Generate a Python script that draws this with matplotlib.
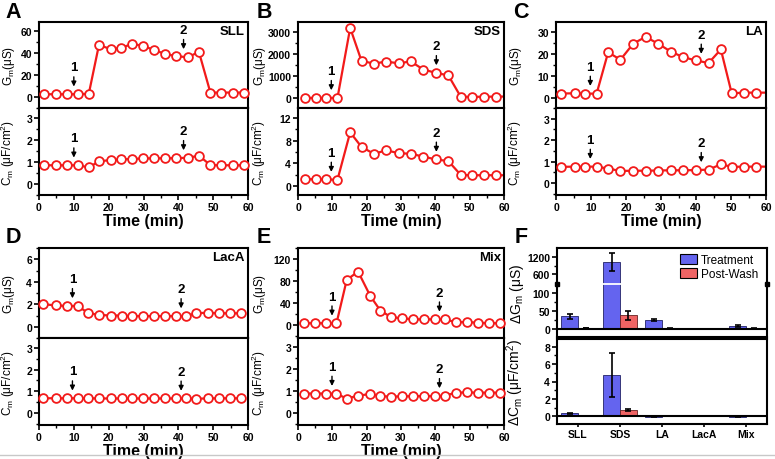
import numpy as np
import matplotlib
matplotlib.use('Agg')
import matplotlib.pyplot as plt
from matplotlib.ticker import MultipleLocator, FixedLocator
from matplotlib.patches import Patch
from matplotlib.lines import Line2D

plt.rcParams['font.family'] = ['Liberation Sans', 'DejaVu Sans']
plt.rcParams['mathtext.default'] = 'regular'

# ---------------- data ----------------
# A  SLL
t_sll = [1.3, 4.9, 8.1, 11.3, 14.3, 17.2, 20.6, 23.6, 26.6, 29.9, 33.0, 36.3, 39.4, 42.8, 45.9, 49.2, 52.3, 55.7, 58.8]
g_sll = [2.5, 2.5, 2.5, 2.5, 3.0, 47, 43.5, 44.5, 48, 46.5, 42.5, 39, 37, 36, 41, 4, 4, 4, 4]
c_sll = [0.86, 0.86, 0.86, 0.86, 0.76, 1.04, 1.1, 1.13, 1.15, 1.17, 1.18, 1.18, 1.19, 1.2, 1.3, 0.87, 0.86, 0.86, 0.86]
# B  SDS
t_sds = [1.9, 5.2, 8.3, 11.5, 15.2, 18.5, 22.1, 25.7, 29.4, 32.8, 36.5, 40.1, 43.8, 47.4, 50.8, 54.2, 57.6, 61.0]
g_sds = [0, 0, 0, 0, 3180, 1680, 1560, 1650, 1570, 1660, 1290, 1140, 1020, 50, 50, 50, 60, 60]
c_sds = [1.2, 1.2, 1.15, 1.1, 9.5, 6.9, 5.7, 6.3, 5.8, 5.7, 5.2, 4.7, 4.4, 1.95, 1.9, 1.9, 1.9, 1.9]
# C  LA
t_la = [1.4, 5.3, 8.4, 11.6, 14.9, 18.4, 22.1, 25.6, 29.1, 32.8, 36.3, 39.9, 43.6, 47.1, 50.2, 53.8, 57.1, 60.5]
g_la = [2.1, 2.2, 2.1, 2.0, 20.9, 17.5, 24.9, 27.9, 24.9, 21.2, 18.7, 17.2, 16.0, 22.2, 2.2, 2.5, 2.5, 2.5]
c_la = [0.76, 0.77, 0.77, 0.77, 0.68, 0.57, 0.58, 0.58, 0.59, 0.6, 0.6, 0.61, 0.63, 0.88, 0.76, 0.77, 0.77, 0.77]
# D  LacA
t_laca = [1.2, 4.8, 7.9, 11.1, 14.1, 17.3, 20.6, 23.7, 26.8, 29.9, 33.0, 36.1, 39.2, 42.1, 45.2, 48.4, 51.6, 54.7, 58.1]
g_laca = [2.0, 1.9, 1.85, 1.85, 1.22, 1.05, 1.0, 1.0, 0.95, 0.95, 0.95, 0.95, 0.95, 0.95, 1.2, 1.25, 1.2, 1.2, 1.2]
c_laca = [0.68, 0.68, 0.68, 0.68, 0.68, 0.67, 0.67, 0.67, 0.67, 0.67, 0.67, 0.67, 0.67, 0.67, 0.66, 0.67, 0.68, 0.68, 0.68]
# E  Mix
t_mix = [1.7, 5.0, 8.2, 11.2, 14.2, 17.5, 21.1, 24.0, 27.1, 30.2, 33.4, 36.7, 39.8, 42.7, 45.9, 49.2, 52.3, 55.5, 58.7]
g_mix = [3, 3, 3, 2.5, 82, 97, 52, 26, 14, 12, 10, 10, 10, 10, 5, 5, 4, 3, 3]
c_mix = [0.88, 0.88, 0.88, 0.87, 0.65, 0.78, 0.86, 0.76, 0.74, 0.75, 0.76, 0.76, 0.77, 0.77, 0.92, 0.93, 0.92, 0.92, 0.92]

arrows_sll = [10, 41.5]
arrows_sds = [9.7, 40.3]
arrows_la = [9.8, 41.5]
arrows_laca = [9.6, 40.8]
arrows_mix = [9.9, 41.2]

# F  summary
cats = ['SLL', 'SDS', 'LA', 'LacA', 'Mix']
dg_treat = [35, 1040, 25, 0.5, 8]
dg_treat_err = [8, 320, 3, 0.4, 2]
dg_wash = [2, 38, 1, 0.5, 1.5]
dg_wash_err = [1, 13, 0.5, 0.3, 0.8]
dc_treat = [0.35, 4.75, -0.05, 0.0, -0.05]
dc_treat_err = [0.06, 2.55, 0.03, 0.02, 0.03]
dc_wash = [0.03, 0.7, 0.0, 0.0, 0.03]
dc_wash_err = [0.02, 0.08, 0.02, 0.01, 0.02]

# ---------------- layout helpers ----------------
W, H = 775, 460
fig = plt.figure(figsize=(W / 100, H / 100), dpi=100)

red = '#f21a1a'
blue = '#6464ef'
pink = '#ef6464'


def rect(l, r, t, b):
    return [l / W, 1 - b / H, (r - l) / W, (b - t) / H]


def style_ax(ax):
    for s in ax.spines.values():
        s.set_linewidth(1.5)
    ax.tick_params(which='major', direction='out', length=3.5, width=1.2,
                   labelsize=7.5, pad=1.5)
    ax.tick_params(which='minor', direction='out', length=2, width=1)
    for lab in ax.get_xticklabels() + ax.get_yticklabels():
        lab.set_fontweight('bold')


def series(ax, t, y):
    t = np.asarray(t)
    y = np.asarray(y)
    ax.plot(t, y, '-', color=red, lw=1.6, zorder=2)
    m = t <= 60
    ax.plot(t[m], y[m], 'o', ms=6.3, mfc='white', mec=red, mew=1.3,
            zorder=3, clip_on=False)


def arrow(ax, t, ts, y, label):
    yv = np.interp(ts, t, y)
    ax.annotate(label, xy=(ts, yv), xytext=(0, 15), textcoords='offset points',
                ha='center', va='bottom', fontsize=9.5, fontweight='bold',
                arrowprops=dict(arrowstyle='-|>', color='k', lw=1.0,
                                shrinkA=0.5, shrinkB=5.5, mutation_scale=7))


def time_panel(box, t, g, c, glim, gstep, clim, cstep, name, letter,
               arrs, ylab_x, let_x):
    l, r, top, mid, bot = box
    ax1 = fig.add_axes(rect(l, r, top, mid))
    ax2 = fig.add_axes(rect(l, r, mid, bot))
    series(ax1, t, g)
    series(ax2, t, c)
    for i, ts in enumerate(arrs):
        arrow(ax1, t, ts, g, str(i + 1))
        arrow(ax2, t, ts, c, str(i + 1))
    for ax in (ax1, ax2):
        ax.set_xlim(0, 60)
        ax.xaxis.set_major_locator(MultipleLocator(10))
        ax.xaxis.set_minor_locator(MultipleLocator(5))
    ax1.set_ylim(*glim)
    ax1.yaxis.set_major_locator(MultipleLocator(gstep))
    ax1.yaxis.set_minor_locator(MultipleLocator(gstep / 2))
    ax2.set_ylim(*clim)
    ax2.yaxis.set_major_locator(MultipleLocator(cstep))
    ax2.yaxis.set_minor_locator(MultipleLocator(cstep / 2))
    ax1.tick_params(labelbottom=False)
    style_ax(ax1)
    style_ax(ax2)
    ax1.set_ylabel(r'G$_m$(μS)', fontsize=8.5)
    ax2.set_ylabel(r'C$_m$ (μF/cm$^2$)', fontsize=8.5)
    fx = (ylab_x - l) / (r - l)
    ax1.yaxis.set_label_coords(fx, 0.5)
    ax2.yaxis.set_label_coords(fx, 0.5)
    ax2.set_xlabel('Time (min)', fontsize=11.5, fontweight='bold', labelpad=0.5)
    ax1.text(0.985, 0.9, name, transform=ax1.transAxes, ha='right',
             va='center', fontsize=9.5, fontweight='bold')
    fig.text(let_x / W, 1 - (top - 11) / H, letter, fontsize=15.5,
             fontweight='bold', ha='center', va='center')
    return ax1, ax2


row1 = (23, 109, 196)
row2 = (249, 339, 426)
col1 = (39, 248)
col2 = (298, 504)
col3 = (556, 766)

time_panel(col1 + row1, t_sll, g_sll, c_sll, (-10, 68), 20, (-0.5, 3.48), 1,
           'SLL', 'A', arrows_sll, 17, 13)
time_panel(col2 + row1, t_sds, g_sds, c_sds, (-460, 3450), 1000, (-1.6, 13.8), 4,
           'SDS', 'B', arrows_sds, 268, 264)
time_panel(col3 + row1, t_la, g_la, c_la, (-4.5, 34.7), 10, (-0.55, 3.5), 1,
           'LA', 'C', arrows_la, 524, 521)
time_panel(col1 + row2, t_laca, g_laca, c_laca, (-1, 7), 2, (-0.55, 3.45), 1,
           'LacA', 'D', arrows_laca, 17, 13)
time_panel(col2 + row2, t_mix, g_mix, c_mix, (-24, 140), 40, (-0.55, 3.4), 1,
           'Mix', 'E', arrows_mix, 268, 264)

# ---------------- panel F ----------------
B_LO, B_HI, SQZ, EPS = 125.0, 250.0, 12.5, 0.01


def fwd(v):
    v = np.asarray(v, dtype=float)
    lo = np.minimum(v, B_LO)
    md = np.clip(v, B_LO, B_HI) - B_LO
    hi = np.maximum(v, B_HI) - B_HI
    return lo + md * EPS + hi / SQZ


def inv(u):
    u = np.asarray(u, dtype=float)
    gap = (B_HI - B_LO) * EPS
    lo = np.minimum(u, B_LO)
    md = np.clip(u - B_LO, 0, gap) / EPS
    hi = np.maximum(u - B_LO - gap, 0) * SQZ
    return lo + md + hi


l, r = 557, 767
axf1 = fig.add_axes(rect(l, r, 249, 338))
axf2 = fig.add_axes(rect(l, r, 340, 425))
x = np.arange(len(cats))
bw = 0.4
ekw = dict(ecolor='k', elinewidth=1.2, capsize=2.2, capthick=1.2)

axf1.set_yscale('function', functions=(fwd, inv))
axf1.bar(x - bw / 2, dg_treat, bw, color=blue, edgecolor='#222266', lw=0.6,
         yerr=dg_treat_err, error_kw=ekw, label='Treatment', zorder=2)
axf1.bar(x + bw / 2, dg_wash, bw, color=pink, edgecolor='#662222', lw=0.6,
         yerr=dg_wash_err, error_kw=ekw, label='Post-Wash', zorder=2)
axf1.set_ylim(-23, 1520)
axf1.yaxis.set_major_locator(FixedLocator([0, 50, 100, 600, 1200]))
axf1.yaxis.set_minor_locator(FixedLocator([25, 75, 900]))
axf1.axhline(0, color='k', lw=1.5, zorder=3)
axf1.axhline((B_LO + B_HI) / 2, color='white', lw=1.3, zorder=4)
axf1.plot([0, 1], [(B_LO + B_HI) / 2] * 2, 's', ms=3.5, color='k',
          transform=axf1.get_yaxis_transform(), clip_on=False, zorder=5)

axf2.bar(x - bw / 2, dc_treat, bw, color=blue, edgecolor='#222266', lw=0.6,
         yerr=dc_treat_err, error_kw=ekw, zorder=2)
axf2.bar(x + bw / 2, dc_wash, bw, color=pink, edgecolor='#662222', lw=0.6,
         yerr=dc_wash_err, error_kw=ekw, zorder=2)
axf2.set_ylim(-0.9, 8.9)
axf2.yaxis.set_major_locator(MultipleLocator(2))
axf2.yaxis.set_minor_locator(MultipleLocator(1))
axf2.axhline(0, color='k', lw=1.5, zorder=3)

for ax in (axf1, axf2):
    ax.set_xlim(-0.5, 4.5)
    ax.set_xticks(x)
axf2.set_xticklabels(cats)
axf1.tick_params(labelbottom=False, bottom=False)
style_ax(axf1)
style_ax(axf2)
axf2.tick_params(axis='x', length=2)
axf1.set_ylabel(r'ΔG$_m$ (μS)', fontsize=10)
axf2.set_ylabel(r'ΔC$_m$ (μF/cm$^2$)', fontsize=10)
axf1.yaxis.set_label_coords((526 - l) / (r - l), 0.5)
axf2.yaxis.set_label_coords((526 - l) / (r - l), 0.5)

hand = [Patch(facecolor=blue, edgecolor='k', lw=0.8, label='Treatment'),
        Patch(facecolor=pink, edgecolor='k', lw=0.8, label='Post-Wash')]
axf1.legend(handles=hand, loc='upper right', bbox_to_anchor=(0.99, 1.01),
            frameon=False, fontsize=8.5, handlelength=1.45, handleheight=0.85,
            handletextpad=0.3, labelspacing=0.15, borderaxespad=0.2)
fig.text(521 / W, 1 - (249 - 11) / H, 'F', fontsize=15.5,
         fontweight='bold', ha='center', va='center')

fig.add_artist(Line2D([0, 1], [1 - 456 / H] * 2, color='#c8c8c8', lw=1,
                      transform=fig.transFigure))

fig.savefig('out.png', dpi=100)
